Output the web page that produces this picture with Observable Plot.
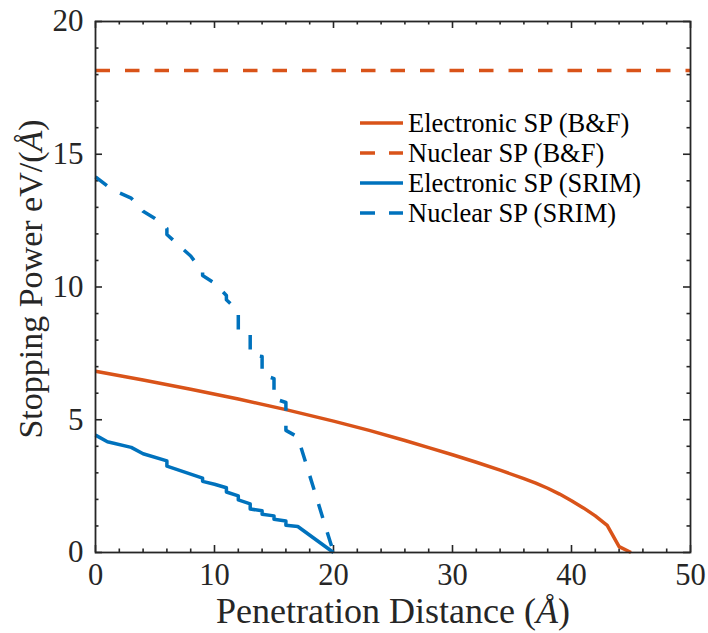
<!DOCTYPE html>
<html><head><meta charset="utf-8">
<script src="https://cdn.jsdelivr.net/npm/d3@7"></script>
<script src="https://cdn.jsdelivr.net/npm/@observablehq/plot@0.6"></script>
<style>
body{margin:0;background:#fff;}
#wrap{position:relative;width:708px;height:633px;}
#wrap svg text{font-family:"Liberation Serif",serif;}
#legend{position:absolute;left:360px;top:108px;font-family:"Liberation Serif",serif;font-size:26.5px;color:#000;}
.row{display:flex;align-items:center;height:30px;white-space:nowrap;}
.row svg{margin-right:5px;}
</style></head><body><div id="wrap"></div>
<script>
// ---- data ----
const seriesNames = ["Electronic SP (B&F)", "Nuclear SP (B&F)", "Electronic SP (SRIM)", "Nuclear SP (SRIM)"];
const seriesColors = ["#D95319", "#D95319", "#0072BD", "#0072BD"];
const seriesDashed = [false, true, false, true];

const distElecBF = [0, 4, 8, 12, 16, 20, 23, 26, 28, 30, 32, 34, 36, 37, 38, 39, 40, 41, 42, 43, 44, 45];
const spElecBF   = [6.83, 6.50, 6.15, 5.78, 5.38, 4.95, 4.60, 4.22, 3.95, 3.68, 3.40, 3.10, 2.78, 2.61, 2.42, 2.20, 1.95, 1.68, 1.38, 1.02, 0.22, 0];

const distNucBF = [0, 50];
const spNucBF   = [18.15, 18.15];

const distElecSRIM = [0, 1, 3, 4, 6, 6, 9, 9, 10, 11, 11, 12, 12, 13, 13, 14, 14, 15, 15, 16, 16, 17, 20];
const spElecSRIM   = [4.42, 4.17, 3.96, 3.72, 3.45, 3.25, 2.80, 2.68, 2.57, 2.44, 2.28, 2.13, 1.98, 1.83, 1.64, 1.57, 1.44, 1.38, 1.25, 1.19, 1.03, 0.98, 0];

const distNucSRIM = [0, 1, 2, 3, 4, 5, 6, 6, 7, 8, 9, 9, 10, 11, 11, 12, 12, 13, 13, 14, 14, 15, 15, 16, 16, 17, 20];
const spNucSRIM   = [14.15, 13.8, 13.55, 13.35, 12.85, 12.58, 12.2, 11.98, 11.57, 11.17, 10.56, 10.43, 10.15, 9.68, 9.52, 9.1, 8.3, 8.2, 7.45, 7.38, 6.7, 6.55, 5.8, 5.65, 4.6, 4.35, 0];

const xTickLabels = [0, 10, 20, 30, 40, 50];
const yTickLabels = [0, 5, 10, 15, 20];
const xLabel = "Penetration Distance (Å)";
const yLabel = "Stopping Power eV/(Å)";

// ---- build ----
const allDist = [distElecBF, distNucBF, distElecSRIM, distNucSRIM];
const allSp = [spElecBF, spNucBF, spElecSRIM, spNucSRIM];
const tables = allDist.map((xs, i) => xs.map((x, j) => ({x, y: allSp[i][j], s: seriesNames[i]})));

const W = 708, H = 633, mL = 95, mR = 18, mT = 21, mB = 81;
const pw = W - mL - mR, ph = H - mT - mB;
const xMinor = d3.range(0, 51, 2).filter(v => v % 10 !== 0);
const yMinor = d3.range(0, 21, 1).filter(v => v % 5 !== 0);
const axisColor = "#262626";
const serif = "'Liberation Serif', 'Times New Roman', serif";
const majLen = 7, minLen = 3.5;

const lineMarks = tables.map((t, i) => Plot.line(t, {
  x: "x", y: "y", stroke: seriesColors[i], strokeWidth: 3.5,
  strokeDasharray: seriesDashed[i] ? "14.5,15" : null,
  strokeLinecap: "butt", strokeLinejoin: "round"
}));

const tickStyle = {stroke: axisColor, strokeWidth: 1.6};
const chart = Plot.plot({
  width: W, height: H,
  marginLeft: mL, marginRight: mR, marginTop: mT, marginBottom: mB,
  style: {fontFamily: serif, background: "#fff", color: axisColor},
  x: {domain: [0, 50]},
  y: {domain: [0, 20]},
  marks: [
    Plot.ruleX(xTickLabels, {x: d => d, insetTop: ph - majLen, ...tickStyle}),
    Plot.ruleX(xTickLabels, {x: d => d, insetBottom: ph - majLen, ...tickStyle}),
    Plot.ruleX(xMinor, {x: d => d, insetTop: ph - minLen, ...tickStyle}),
    Plot.ruleX(xMinor, {x: d => d, insetBottom: ph - minLen, ...tickStyle}),
    Plot.ruleY(yTickLabels, {y: d => d, insetRight: pw - majLen, ...tickStyle}),
    Plot.ruleY(yTickLabels, {y: d => d, insetLeft: pw - majLen, ...tickStyle}),
    Plot.ruleY(yMinor, {y: d => d, insetRight: pw - minLen, ...tickStyle}),
    Plot.ruleY(yMinor, {y: d => d, insetLeft: pw - minLen, ...tickStyle}),
    ...lineMarks,
    Plot.frame({stroke: axisColor, strokeWidth: 1.8}),
    Plot.axisX(xTickLabels, {anchor: "bottom", tickSize: 0, tickPadding: 11, fontSize: 30.5, fontFamily: serif, label: null, fill: axisColor}),
    Plot.axisY(yTickLabels, {anchor: "left", tickSize: 0, tickPadding: 12, fontSize: 31, fontFamily: serif, label: null, fill: axisColor}),
    Plot.text([xLabel], {frameAnchor: "bottom", dy: 59, fontSize: 36, fontFamily: serif, fill: axisColor, textAnchor: "middle", lineAnchor: "middle", text: d => d}),
    Plot.text([yLabel], {frameAnchor: "left", dx: -64, dy: -8, rotate: -90, fontSize: 34, fontFamily: serif, fill: axisColor, textAnchor: "middle", lineAnchor: "middle", text: d => d})
  ]
});
const wrap = document.getElementById("wrap");
wrap.appendChild(chart);

// italic Å like LaTeX math
chart.querySelectorAll("text").forEach(t => {
  if (t.textContent === xLabel || t.textContent === yLabel) {
    const s = t.textContent;
    const k = s.indexOf("Å");
    t.textContent = "";
    const ns = "http://www.w3.org/2000/svg";
    const a = document.createElementNS(ns, "tspan"); a.textContent = s.slice(0, k);
    const b = document.createElementNS(ns, "tspan"); b.textContent = "Å"; b.setAttribute("font-style", "italic");
    const c = document.createElementNS(ns, "tspan"); c.textContent = s.slice(k + 1);
    t.appendChild(a); t.appendChild(b); t.appendChild(c);
  }
});

// legend
const leg = document.createElement("div");
leg.id = "legend";
seriesNames.forEach((name, i) => {
  const row = document.createElement("div");
  row.className = "row";
  row.innerHTML = `<svg width="43" height="8"><line x1="0" y1="4" x2="43" y2="4" stroke="${seriesColors[i]}" stroke-width="3.5" ${seriesDashed[i] ? 'stroke-dasharray="15,14"' : ''}/></svg><span></span>`;
  row.querySelector("span").textContent = name;
  leg.appendChild(row);
});
wrap.appendChild(leg);
</script>
</body></html>
